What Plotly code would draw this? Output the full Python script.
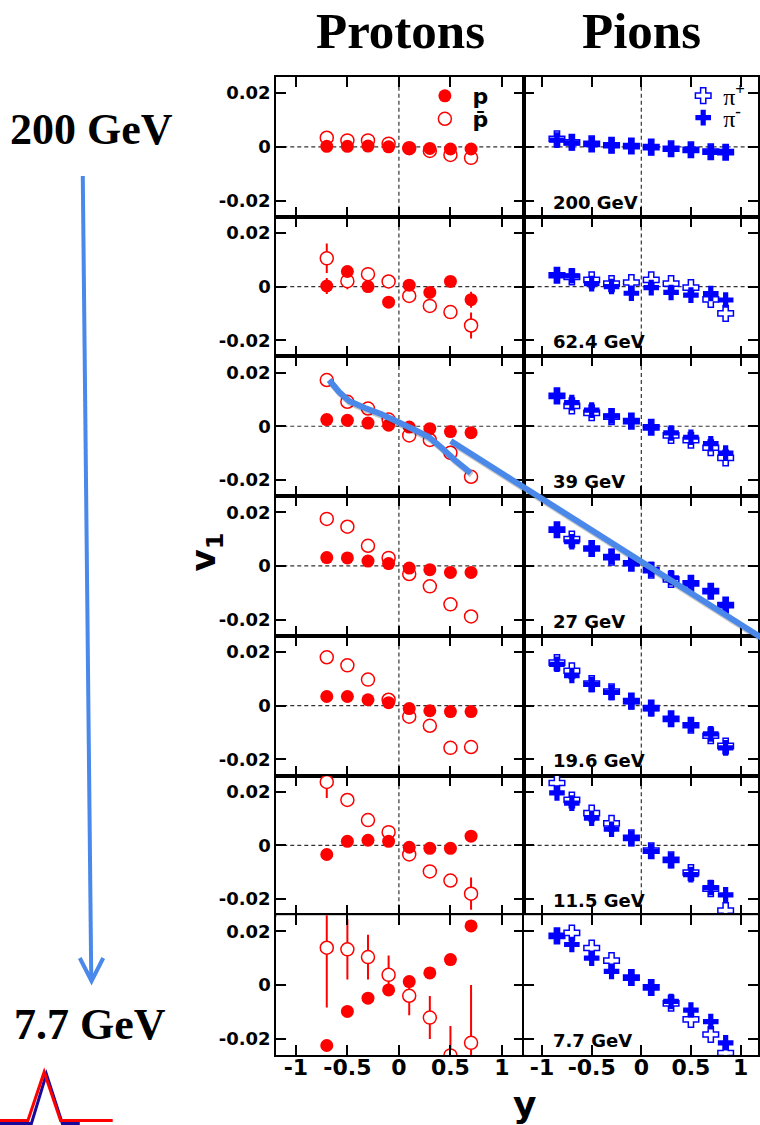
import plotly.graph_objects as go

# ---------------------------------------------------------------- data
energies = ["200 GeV", "62.4 GeV", "39 GeV", "27 GeV", "19.6 GeV", "11.5 GeV", "7.7 GeV"]

rapidity_p = [-0.7, -0.5, -0.3, -0.1, 0.1, 0.3, 0.5, 0.7]
rapidity_pi = [-0.85, -0.7, -0.5, -0.3, -0.1, 0.1, 0.3, 0.5, 0.7, 0.85]

# proton v1, one row per beam energy
p_v1 = [
    [0.0002, 0.0002, 0.0003, 0.0000, -0.0006, -0.0006, -0.0008, -0.0008],
    [0.0002, 0.0056, 0.0000, -0.0058, 0.0005, -0.0022, 0.0019, -0.0049],
    [0.0025, 0.0022, 0.0012, 0.0004, -0.0003, -0.0009, -0.0020, -0.0024],
    [0.0031, 0.0030, 0.0018, 0.0009, -0.0008, -0.0014, -0.0024, -0.0024],
    [0.0034, 0.0034, 0.0022, 0.0011, -0.0011, -0.0019, -0.0022, -0.0022],
    [-0.0034, 0.0015, 0.0019, 0.0015, -0.0007, -0.0011, -0.0011, 0.0034],
    [-0.0225, -0.0098, -0.0049, -0.0018, 0.0013, 0.0045, 0.0095, 0.0220],
]
p_err = [
    [0.0005, 0.0005, 0.0005, 0.0005, 0.0005, 0.0005, 0.0005, 0.0005],
    [0.0030, 0.0015, 0.0010, 0.0010, 0.0010, 0.0010, 0.0010, 0.0030],
    [0.0005, 0.0005, 0.0005, 0.0005, 0.0005, 0.0005, 0.0005, 0.0005],
    [0.0005, 0.0005, 0.0005, 0.0005, 0.0005, 0.0005, 0.0005, 0.0005],
    [0.0005, 0.0005, 0.0005, 0.0005, 0.0005, 0.0005, 0.0005, 0.0005],
    [0.0010, 0.0010, 0.0010, 0.0010, 0.0010, 0.0010, 0.0010, 0.0010],
    [0.0015, 0.0015, 0.0015, 0.0015, 0.0015, 0.0015, 0.0015, 0.0015],
]

# anti-proton v1
pbar_v1 = [
    [0.0034, 0.0024, 0.0024, 0.0012, -0.0005, -0.0015, -0.0030, -0.0041],
    [0.0105, 0.0020, 0.0046, 0.0019, -0.0035, -0.0072, -0.0095, -0.0145],
    [0.0172, 0.0091, 0.0066, 0.0025, -0.0034, -0.0051, -0.0099, -0.0188],
    [0.0175, 0.0146, 0.0075, 0.0030, -0.0030, -0.0076, -0.0143, -0.0188],
    [0.0180, 0.0150, 0.0097, 0.0022, -0.0041, -0.0075, -0.0157, -0.0154],
    [0.0236, 0.0169, 0.0094, 0.0049, -0.0034, -0.0097, -0.0131, -0.0180],
    [0.0139, 0.0133, 0.0104, 0.0038, -0.0040, -0.0121, -0.0262, -0.0215],
]
pbar_err = [
    [0.0010, 0.0010, 0.0010, 0.0010, 0.0010, 0.0010, 0.0010, 0.0010],
    [0.0055, 0.0030, 0.0025, 0.0025, 0.0015, 0.0015, 0.0015, 0.0048],
    [0.0010, 0.0010, 0.0010, 0.0010, 0.0010, 0.0010, 0.0010, 0.0010],
    [0.0010, 0.0010, 0.0010, 0.0010, 0.0010, 0.0010, 0.0010, 0.0010],
    [0.0015, 0.0015, 0.0015, 0.0015, 0.0015, 0.0015, 0.0015, 0.0015],
    [0.0060, 0.0015, 0.0015, 0.0015, 0.0015, 0.0015, 0.0015, 0.0060],
    [0.0223, 0.0112, 0.0083, 0.0072, 0.0072, 0.0080, 0.0110, 0.0215],
]

# pion v1
pip_v1 = [
    [0.0030, 0.0017, 0.0011, 0.0006, 0.0003, -0.0001, -0.0007, -0.0011, -0.0018, -0.0020],
    [0.0042, 0.0036, 0.0025, 0.0011, 0.0015, 0.0025, 0.0011, -0.0004, -0.0048, -0.0100],
    [0.0113, 0.0076, 0.0050, 0.0036, 0.0019, -0.0004, -0.0034, -0.0052, -0.0080, -0.0118],
    [0.0135, 0.0100, 0.0065, 0.0033, 0.0010, -0.0016, -0.0050, -0.0065, -0.0094, -0.0146],
    [0.0160, 0.0130, 0.0082, 0.0052, 0.0017, -0.0009, -0.0049, -0.0073, -0.0112, -0.0150],
    [0.0232, 0.0169, 0.0120, 0.0082, 0.0028, -0.0020, -0.0054, -0.0101, -0.0161, -0.0243],
    [0.0183, 0.0194, 0.0138, 0.0091, 0.0028, -0.0009, -0.0068, -0.0128, -0.0184, -0.0253],
]
pim_v1 = [
    [0.0025, 0.0015, 0.0010, 0.0005, 0.0003, -0.0002, -0.0008, -0.0012, -0.0019, -0.0020],
    [0.0042, 0.0040, 0.0011, 0.0000, -0.0025, -0.0004, -0.0022, -0.0032, -0.0026, -0.0050],
    [0.0113, 0.0088, 0.0060, 0.0038, 0.0019, -0.0004, -0.0025, -0.0041, -0.0065, -0.0100],
    [0.0135, 0.0090, 0.0065, 0.0035, 0.0010, -0.0013, -0.0044, -0.0065, -0.0094, -0.0146],
    [0.0154, 0.0112, 0.0079, 0.0049, 0.0015, -0.0011, -0.0049, -0.0071, -0.0105, -0.0157],
    [0.0195, 0.0157, 0.0101, 0.0060, 0.0026, -0.0022, -0.0056, -0.0109, -0.0157, -0.0184],
    [0.0183, 0.0151, 0.0100, 0.0051, 0.0028, -0.0009, -0.0061, -0.0093, -0.0136, -0.0215],
]

x_tick_vals = [-1, -0.5, 0, 0.5, 1]
x_tick_text = ["-1", "-0.5", "0", "0.5", "1"]
y_tick_vals = [-0.02, 0, 0.02]
y_tick_text = ["-0.02", "0", "0.02"]

# ---------------------------------------------------------------- layout geometry (px)
W, H = 760, 1125
ROW_TOP, ROW_H = 77.0, 139.7
COLS = [(277.0, 525.0), (525.0, 760.0)]
X_RANGES = [(-1.19, 1.21), (-1.186, 1.176)]
Y_RANGE = (-0.026, 0.026)

RED = "#ff0000"
BLUE = "#0000ff"
GUIDE = "#4a88ea"
SANS = "DejaVu Sans"
SERIF = "Liberation Serif"


def fx(px):
    return px / W


def fy(py):
    return 1 - py / H


def path(points):
    return "M " + " L ".join(f"{fx(x):.5f},{fy(y):.5f}" for x, y in points)


fig = go.Figure()
layout_axes = {}
annotations = []
shapes = []

for r, energy in enumerate(energies):
    top = ROW_TOP + r * ROW_H
    bottom = top + ROW_H
    for c in range(2):
        idx = 2 * r + c + 1
        sfx = "" if idx == 1 else str(idx)
        xref, yref = "x" + sfx, "y" + sfx
        first = r == 0

        if c == 0:
            fig.add_trace(go.Scatter(
                x=rapidity_p, y=pbar_v1[r], mode="markers", xaxis=xref, yaxis=yref,
                name=" p\u0304", legend="legend2", showlegend=first,
                marker=dict(symbol="circle", size=13, color="white",
                            line=dict(color=RED, width=1.5)),
                error_y=dict(type="data", array=pbar_err[r], color=RED, thickness=2, width=0),
            ))
            fig.add_trace(go.Scatter(
                x=rapidity_p, y=p_v1[r], mode="markers", xaxis=xref, yaxis=yref,
                name=" p", legend="legend", showlegend=first,
                marker=dict(symbol="circle", size=13, color=RED, line=dict(width=0)),
                error_y=dict(type="data", array=p_err[r], color=RED, thickness=2, width=0),
            ))
        else:
            fig.add_trace(go.Scatter(
                x=rapidity_pi, y=pip_v1[r], mode="markers", xaxis=xref, yaxis=yref,
                name="\u03c0<sup><b>+</b></sup>", legend="legend3", showlegend=first,
                marker=dict(symbol="cross", size=13, color="white",
                            line=dict(color=BLUE, width=1.5)),
            ))
            fig.add_trace(go.Scatter(
                x=rapidity_pi, y=pim_v1[r], mode="markers", xaxis=xref, yaxis=yref,
                name="\u03c0<sup><b>-</b></sup>", legend="legend4", showlegend=first,
                marker=dict(symbol="cross", size=13, color=BLUE, line=dict(width=0)),
            ))
            annotations.append(dict(
                xref=f"{xref} domain", yref=f"{yref} domain", x=0.118, y=0.105,
                xanchor="left", yanchor="middle", showarrow=False, text=energy,
                font=dict(family=SANS, size=18, color="black", weight="bold"),
            ))

        x0, x1 = COLS[c]
        layout_axes["xaxis" + sfx] = dict(
            domain=[fx(x0), min(fx(x1), 1.0)], range=list(X_RANGES[c]), anchor=yref,
            showline=True, linecolor="black", linewidth=2, mirror="ticks",
            ticks="inside", ticklen=10, tickwidth=1.5, tickcolor="black",
            tickmode="array", tickvals=x_tick_vals, ticktext=x_tick_text,
            showticklabels=(r == len(energies) - 1), ticklabelstandoff=-8,
            tickfont=dict(family=SANS, size=22, color="black", weight="bold"),
            showgrid=False, zeroline=False,
        )
        layout_axes["yaxis" + sfx] = dict(
            domain=[fy(bottom), fy(top)], range=list(Y_RANGE), anchor=xref,
            showline=True, linecolor="black", linewidth=2, mirror="ticks",
            ticks="inside", ticklen=10, tickwidth=1.5, tickcolor="black",
            tickmode="array", tickvals=y_tick_vals, ticktext=y_tick_text,
            showticklabels=(c == 0),
            tickfont=dict(family=SANS, size=18, color="black", weight="bold"),
            showgrid=False, zeroline=False,
        )

        dash = dict(color="#333333", width=1.2, dash="4px,3px")
        shapes.append(dict(type="line", layer="below", xref=xref, yref=f"{yref} domain",
                           x0=0, x1=0, y0=0, y1=1, line=dash))
        shapes.append(dict(type="line", layer="below", xref=f"{xref} domain", yref=yref,
                           x0=0, x1=1, y0=0, y1=0, line=dash))

# ---------------------------------------------------------------- headings and titles
def label(x, y, text, family, size, angle=0, bold=True):
    return dict(xref="paper", yref="paper", x=fx(x), y=fy(y), text=text, showarrow=False,
                xanchor="center", yanchor="middle", textangle=angle,
                font=dict(family=family, size=size, color="black",
                          weight="bold" if bold else "normal"))


annotations += [
    label(402, 31, "Protons", SERIF, 51),
    label(643, 31, "Pions", SERIF, 51),
    label(92, 130, "200 GeV", SERIF, 44),
    label(90, 1024, "7.7 GeV", SERIF, 44),
    label(207, 552, "v<sub>1</sub>", SANS, 34, angle=-90),
    label(526, 1104, "y", SANS, 36),
]

# ---------------------------------------------------------------- guide lines and arrow
curve_pts = [(330, 380), (340, 392), (350, 401), (366, 408), (382, 414), (397, 421),
             (416, 430), (430, 437), (443, 448), (456, 460), (472, 473)]
straight_pts = [(452, 441), (775, 645)]
for pts in (curve_pts, straight_pts):
    shadow = [(x + 1, y + 2) for x, y in pts]
    shapes.append(dict(type="path", xref="paper", yref="paper", layer="above",
                       path=path(shadow), line=dict(color="rgba(0,0,0,0.22)", width=6)))
    shapes.append(dict(type="path", xref="paper", yref="paper", layer="above",
                       path=path(pts), line=dict(color=GUIDE, width=6)))

shapes.append(dict(type="path", xref="paper", yref="paper", layer="above",
                   path=path([(83, 176), (91.5, 978)]), line=dict(color=GUIDE, width=4)))
shapes.append(dict(type="path", xref="paper", yref="paper", layer="above",
                   path=path([(80, 958), (91.8, 981), (103.5, 958)]),
                   line=dict(color=GUIDE, width=4)))

# experiment logo
shapes.append(dict(type="path", xref="paper", yref="paper", layer="above",
                   path=path([(0, 1123.5), (31.5, 1123.5), (46.5, 1074), (62.5, 1123.5), (80, 1123.5)]),
                   line=dict(color="#1a0a9c", width=3)))
shapes.append(dict(type="path", xref="paper", yref="paper", layer="above",
                   path=path([(0, 1120.5), (28, 1120.5), (44.3, 1072), (60.7, 1120.5), (113, 1120.5)]),
                   line=dict(color=RED, width=3)))

# ---------------------------------------------------------------- legends
legend_common = dict(xanchor="left", yanchor="middle", bgcolor="rgba(0,0,0,0)",
                     borderwidth=0, itemclick=False, itemdoubleclick=False)
legends = dict(
    legend=dict(x=fx(426), y=fy(96), font=dict(family=SANS, size=22, color="black", weight="bold"),
                **legend_common),
    legend2=dict(x=fx(426), y=fy(119), font=dict(family=SANS, size=22, color="black", weight="bold"),
                 **legend_common),
    legend3=dict(x=fx(685), y=fy(96), font=dict(family=SERIF, size=24, color="black"),
                 **legend_common),
    legend4=dict(x=fx(685), y=fy(118), font=dict(family=SERIF, size=24, color="black"),
                 **legend_common),
)

fig.update_layout(
    width=W, height=H, margin=dict(l=0, r=0, t=0, b=0),
    paper_bgcolor="white", plot_bgcolor="white",
    annotations=annotations, shapes=shapes,
    **layout_axes, **legends,
)

fig.write_html("out.html")
